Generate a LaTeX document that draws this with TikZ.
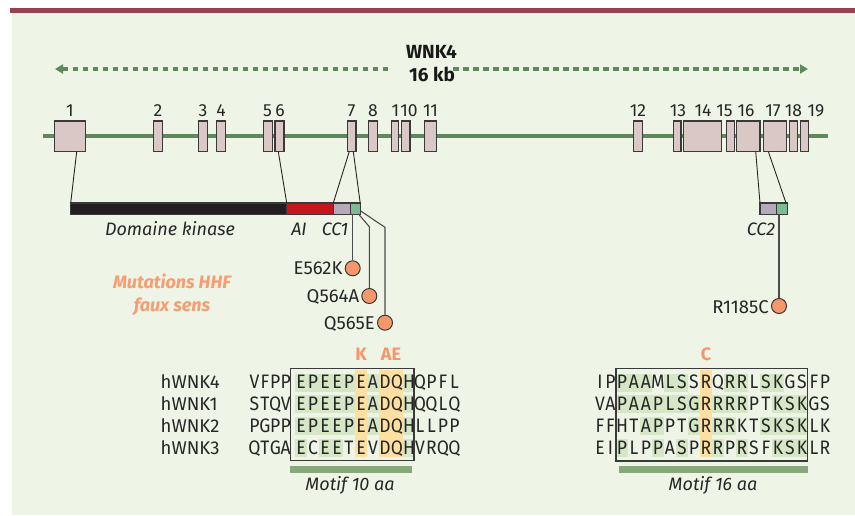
\documentclass[tikz,border=0pt]{standalone}
\usepackage{fontspec}
\setmainfont{Fira Sans}
\newfontfamily\seqfont{Fira Sans}[FakeStretch=0.9]
\usetikzlibrary{arrows.meta,positioning}

\definecolor{bandred}{HTML}{97424C}
\definecolor{paper}{HTML}{EEF4E6}
\definecolor{genegreen}{HTML}{5E8A5B}
\definecolor{exonfill}{HTML}{D9C8C6}
\definecolor{kinblack}{HTML}{231F20}
\definecolor{aired}{HTML}{C4161C}
\definecolor{ccgrey}{HTML}{B6A9B9}
\definecolor{ccgreen}{HTML}{7DBB92}
\definecolor{mutorange}{HTML}{F5976B}
\definecolor{hhforange}{HTML}{F59E73}
\definecolor{consgreen}{HTML}{D5E7C6}
\definecolor{siteorange}{HTML}{FDDFA2}
\definecolor{motifbar}{HTML}{87A878}
\definecolor{inkgrey}{HTML}{3A3A3A}

\tikzset{
  exon/.style={fill=exonfill,draw=inkgrey,line width=1.2pt},
  exonnum/.style={font=\fontsize{17.5}{17.5}\selectfont,inner sep=0pt,anchor=base,text=black!85},
  link/.style={draw=black!85,line width=0.9pt},
  segment/.style={draw=inkgrey,line width=1.1pt},
  mut/.style={circle,fill=mutorange,draw=inkgrey,line width=1pt,minimum size=15pt,inner sep=0pt},
  mutlabel/.style={font=\fontsize{18.5}{18.5}\selectfont,inner sep=0pt,anchor=base east,text=black!85},
  stalk/.style={draw=black!70,line width=1.1pt},
  domlabel/.style={font=\itshape\fontsize{18}{18}\selectfont,inner sep=0pt,anchor=base,text=black!85},
  hhf/.style={font=\bfseries\itshape\fontsize{18}{18}\selectfont,inner sep=0pt,anchor=base,text=hhforange},
  site/.style={font=\bfseries\fontsize{18}{18}\selectfont,inner sep=0pt,anchor=base,text=mutorange},
  seq/.style={font=\seqfont\fontsize{19.5}{19.5}\selectfont,inner sep=0pt,anchor=base,text=black!85},
  rowlabel/.style={font=\fontsize{18.5}{18.5}\selectfont,inner sep=0pt,anchor=base west,text=black!85},
  alnbox/.style={draw=inkgrey,line width=1.2pt},
  kbarrow/.style={draw=genegreen,line width=3.2pt,dash pattern=on 5.5pt off 4.5pt,
    -{Triangle[length=8pt,width=9pt]}},
  titletext/.style={font=\bfseries\fontsize{19}{19}\selectfont,inner sep=0pt,anchor=base,text=black!90}
}

\begin{document}
\begin{tikzpicture}[x=1pt,y=-1pt]
  \useasboundingbox (0,0) rectangle (855,515);
  \fill[bandred] (10,8) rectangle (855,13.3);
  \fill[paper] (12,13.3) rectangle (855,515);

  % Gene length
  \node[titletext] (wnk) at (431.5,58.3) {WNK4};
  \node[titletext] (kb) at (432,81.7) {16 kb};
  \coordinate (aL0) at (388,69);
  \coordinate (aL) at (55,69);
  \coordinate (aR0) at (453,69);
  \coordinate (aR) at (808,69);
  \draw[kbarrow] (aL0) -- (aL);
  \draw[kbarrow] (aR0) -- (aR);

  % Exons on the gene
  \coordinate (g0) at (43,136);
  \coordinate (g1) at (828,136);
  \draw[genegreen,line width=4pt] (g0) -- (g1);
  \foreach \a/\b in {54.3/85.7,153.3/162.3,198.3/207.3,216.7/225.3,263.3/272.3,275/284,
      347.3/356,368.3/377.5,391.7/398.3,401.7/410,424.3/436.7,633.3/642.3,673.3/681,
      683.3/721.7,726.7/734.3,736.3/760,763.3/786.7,789.3/797.7,800.3/808.7}
    \filldraw[exon] (\a,121) rectangle (\b,151.5);
  \foreach \x/\t [count=\i] in {70/1,158/2,203/3,221/4,267.5/5,280/6,351.5/7,373/8,395.5/1,
      409/10,430.5/11,638/12,678/13,703/14,724.5/15,746/16,773/17,793.5/18,816/19}
    \node[exonnum] (num\i) at (\x,116.5) {\t};

  % Protein domains
  \filldraw[segment,fill=kinblack] (70.7,203) rectangle (286.7,214.3);
  \filldraw[segment,fill=aired] (286.7,203) rectangle (333.3,214.3);
  \filldraw[segment,fill=ccgrey] (333.3,203) rectangle (350.7,214.3);
  \filldraw[segment,fill=ccgreen] (350.7,203) rectangle (360.7,214.3);
  \filldraw[segment,fill=ccgrey] (760,203) rectangle (776.7,214.3);
  \filldraw[segment,fill=ccgreen] (776.7,203) rectangle (787.3,214.3);
  \node[domlabel] (kin) at (170,235) {Domaine kinase};
  \node[domlabel] (ai) at (299,235) {AI};
  \node[domlabel] (cc1) at (335,235) {CC1};
  \node[domlabel] (cc2) at (761,235) {CC2};

  % Exon to protein links
  \coordinate (x1) at (76.7,151.5);  \coordinate (p1) at (70.7,203);
  \coordinate (x6) at (278.3,151.5); \coordinate (p6) at (286.7,203);
  \coordinate (x7a) at (349.3,151.5); \coordinate (p7a) at (333.3,203);
  \coordinate (x7b) at (353.3,151.5); \coordinate (p7b) at (360.2,203);
  \coordinate (x16) at (755.7,151.5); \coordinate (p16) at (760,203);
  \coordinate (x17) at (768.3,151.5); \coordinate (p17) at (786,203);
  \draw[link] (x1) -- (p1);
  \draw[link] (x6) -- (p6);
  \draw[link] (x7a) -- (p7a);
  \draw[link] (x7b) -- (p7b);
  \draw[link] (x16) -- (p16);
  \draw[link] (x17) -- (p17);

  % Missense mutations
  \node[hhf] (hhf1) at (172,288.3) {Mutations HHF};
  \node[hhf] (hhf2) at (172,311.7) {faux sens};
  \node[mut] (m1) at (352.7,268.3) {};
  \node[mut] (m2) at (369.3,296) {};
  \node[mut] (m3) at (385,322.7) {};
  \node[mut] (m4) at (779,306) {};
  \coordinate (s1) at (352.7,214.3);
  \coordinate (s2) at (358.3,213.8); \coordinate (k2) at (369.3,226.7);
  \coordinate (s3) at (360.7,211);   \coordinate (k3) at (385,227.3);
  \coordinate (s4) at (779,214.3);
  \draw[stalk] (s1) -- (m1);
  \draw[stalk] (s2) -- (k2) -- (m2);
  \draw[stalk] (s3) -- (k3) -- (m3);
  \draw[stalk] (s4) -- (m4);
  \node[mutlabel] (l1) at ([xshift=-2pt,yshift=-6.5pt]m1.west) {E562K};
  \node[mutlabel] (l2) at ([xshift=-2pt,yshift=-6.5pt]m2.west) {Q564A};
  \node[mutlabel] (l3) at ([xshift=-2pt,yshift=-6.5pt]m3.west) {Q565E};
  \node[mutlabel] (l4) at ([xshift=-2pt,yshift=-7pt]m4.west) {R1185C};

  % Alignment, 10 aa motif
  \foreach \yy/\cells in {382.5/{1,2,3,4,5,7,10},403.5/{1,2,3,4,5,7,10},
      425.5/{1,2,3,4,5,7,10},447.5/{1,3,4,10}}
    \foreach \i in \cells
      \fill[consgreen] ({283+\i*12},{\yy-9}) rectangle ++(12,18);
  \fill[siteorange] (355,370) rectangle (367,457);
  \fill[siteorange] (379,370) rectangle (403,457);
  \draw[alnbox] (290.7,368.3) rectangle (414,460.7);
  \node[site] (sK) at (361,360) {K};
  \node[site] (sAE) at (391,360) {AE};
  \foreach \yy/\nm/\pre/\core/\post in {
      381.5/hWNK4/{V,F,P,P}/{E,P,E,E,P,E,A,D,Q,H}/{Q,P,F,L},
      403.5/hWNK1/{S,T,Q,V}/{E,P,E,E,P,E,A,D,Q,H}/{Q,Q,L,Q},
      425.5/hWNK2/{P,G,P,P}/{E,P,E,E,P,E,A,D,Q,H}/{L,L,P,P},
      447.5/hWNK3/{Q,T,G,A}/{E,C,E,E,T,E,V,D,Q,H}/{V,R,Q,Q}}{
    \node[rowlabel] (\nm) at (160.5,{\yy+6.8}) {\nm};
    \foreach \c [count=\i] in \pre
      \node[seq] (\nm a\i) at ({244.1+\i*10.4},{\yy+6.8}) {\c};
    \foreach \c [count=\i] in \core
      \node[seq] (\nm b\i) at ({289+\i*12},{\yy+6.8}) {\c};
    \foreach \c [count=\i] in \post
      \node[seq] (\nm c\i) at ({408.5+\i*11.5},{\yy+6.8}) {\c};
  }
  \fill[motifbar] (290,466) rectangle (411.7,472.5);
  \node[domlabel] (m10) at (350,490) {Motif 10 aa};

  % Alignment, 16 aa motif
  \foreach \yy/\cells in {382.5/{1,2,3,5,6,10,11,13,14},403.5/{1,2,3,4,5,6,7,9,10,11,14,15,16},
      425.5/{3,4,7,9,10,13,14,15,16},447.5/{1,4,6,9,11,14,15,16}}
    \foreach \i in \cells
      \fill[consgreen] ({604+\i*12},{\yy-9}) rectangle ++(12,18);
  \fill[siteorange] (700,370) rectangle (712,457);
  \draw[alnbox] (616,368.3) rectangle (807.7,461);
  \node[site] (sC) at (706,360) {C};
  \foreach \yy/\nm/\pre/\core/\post in {
      381.5/r4/{I,P}/{P,A,A,M,L,S,S,R,Q,R,R,L,S,K,G,S}/{F,P},
      403.5/r1/{V,A}/{P,A,A,P,L,S,G,R,R,R,R,P,T,K,S,K}/{G,S},
      425.5/r2/{F,F}/{H,T,A,P,P,T,G,R,R,R,K,T,S,K,S,K}/{L,K},
      447.5/r3/{E,I}/{P,L,P,P,A,S,P,R,R,P,R,S,F,K,S,K}/{L,R}}{
    \foreach \c [count=\i] in \pre
      \node[seq] (\nm a\i) at ({589.5+\i*10.5},{\yy+6.8}) {\c};
    \foreach \c [count=\i] in \core
      \node[seq] (\nm b\i) at ({610+\i*12},{\yy+6.8}) {\c};
    \foreach \c [count=\i] in \post
      \node[seq] (\nm c\i) at ({803+\i*11},{\yy+6.8}) {\c};
  }
  \fill[motifbar] (619.3,466) rectangle (808.3,472.5);
  \node[domlabel] (m16) at (713,490) {Motif 16 aa};
\end{tikzpicture}
\end{document}
